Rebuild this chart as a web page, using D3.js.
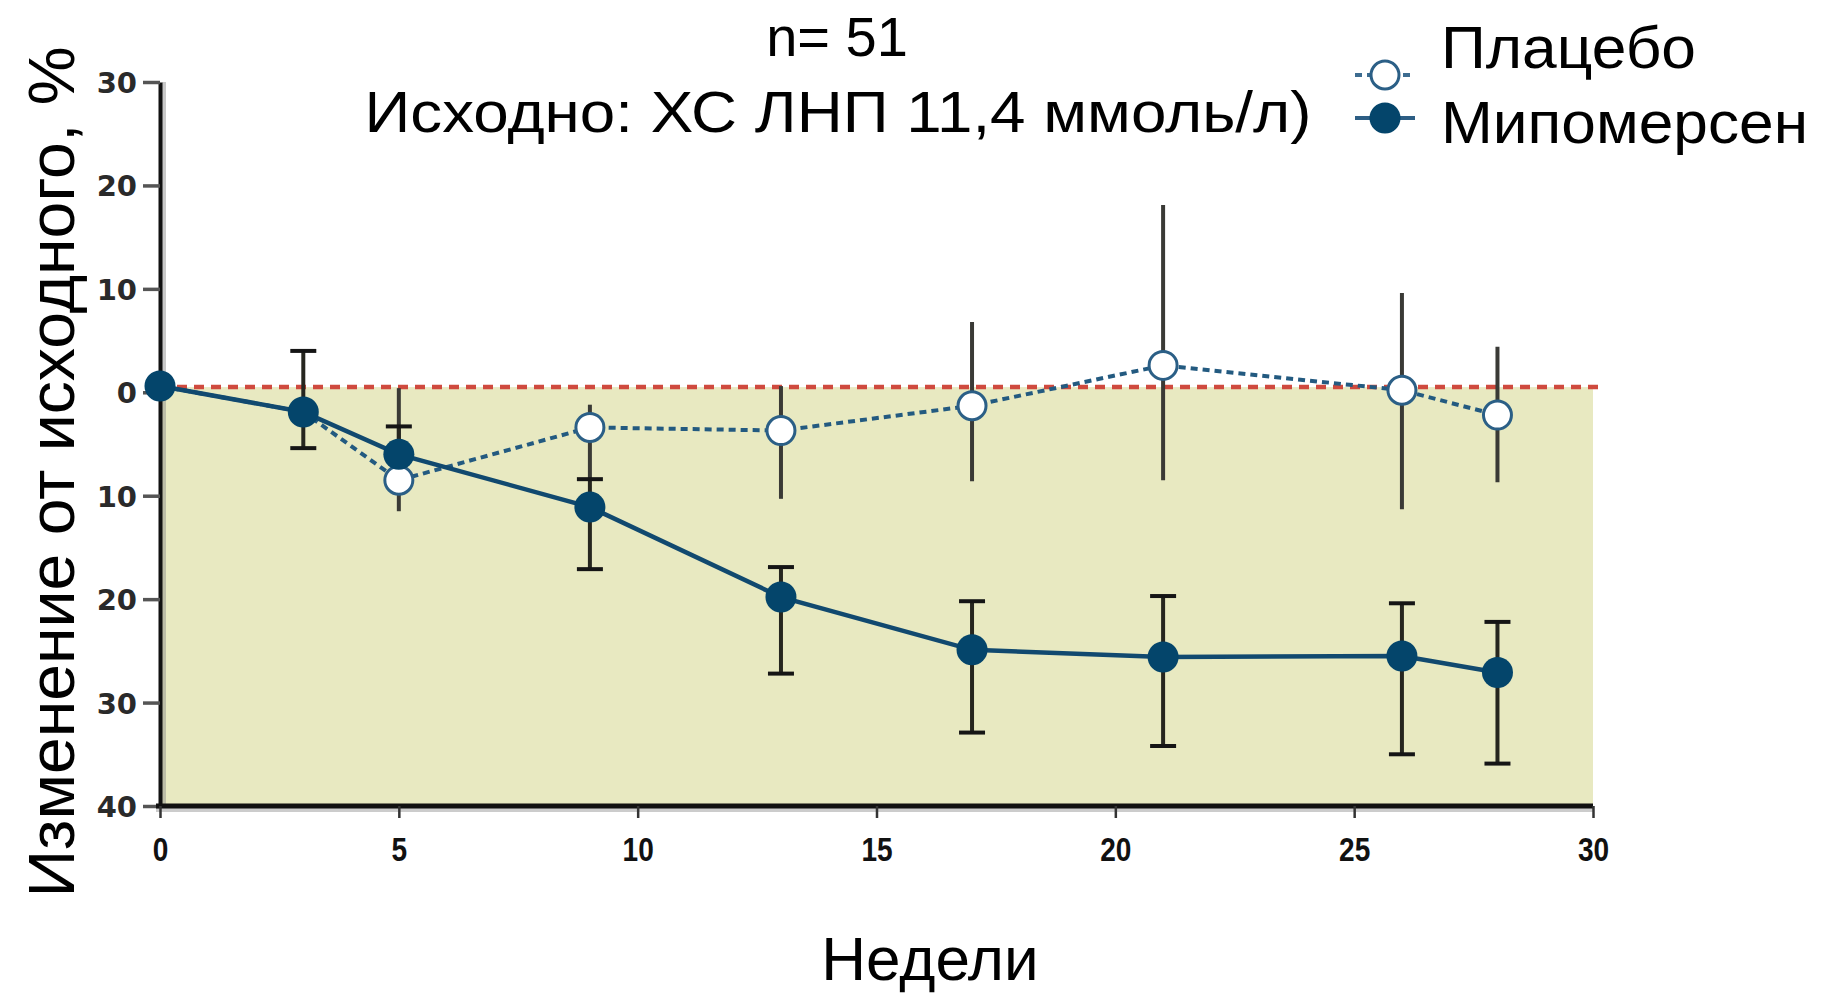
<!DOCTYPE html>
<html>
<head>
<meta charset="utf-8">
<script src="https://cdn.jsdelivr.net/npm/d3@7"></script>
<style>
  html, body { margin: 0; padding: 0; background: #ffffff; }
  svg { display: block; }
</style>
</head>
<body>
<svg id="chart" width="1829" height="996"></svg>
<script>
// ---- data ----
const weeks = [0, 3, 5, 9, 13, 17, 21, 26, 28];
const mipMean = [0.6, -1.9, -6.0, -11.1, -19.8, -24.9, -25.6, -25.5, -27.1];
const mipHigh = [null, 4.0, -3.3, -8.4, -16.9, -20.2, -19.7, -20.4, -22.2];
const mipLow  = [null, -5.4, -8.9, -17.1, -27.2, -32.9, -34.2, -35.0, -35.9];
const plaMean = [0.6, -1.9, -8.5, -3.4, -3.7, -1.3, 2.6, 0.2, -2.2];
const plaHigh = [null, null, 0.4, -1.2, 0.6, 6.8, 18.1, 9.6, 4.4];
const plaLow  = [null, null, -11.5, -8.4, -10.3, -8.6, -8.5, -11.3, -8.7];
const refValue = 0.5;
const xTicks = [0, 5, 10, 15, 20, 25, 30];
const yTicks = [30, 20, 10, 0, -10, -20, -30, -40];
const yTickLabels = ["30", "20", "10", "0", "10", "20", "30", "40"];
const seriesNames = ["Плацебо", "Мипомерсен"];
const titleLines = ["n= 51", "Исходно: ХС ЛНП 11,4 ммоль/л)"];
const xTitle = "Недели";
const yTitle = "Изменение от исходного, %";

// ---- layout ----
const svg = d3.select("#chart");
const x = d3.scaleLinear().domain([0, 30]).range([160, 1593]);
const y = d3.scaleLinear().domain([-40, 30]).range([806, 82]);

const darkBlue = "#04456b";
const lineBlue = "#11496f";
const font = "'Liberation Sans', Arial, Helvetica, sans-serif";

// background fill below reference line
svg.append("rect")
  .attr("x", x(0)).attr("y", y(refValue))
  .attr("width", x(30) - x(0)).attr("height", y(-40) - y(refValue))
  .attr("fill", "#e8e9c1");

// reference dashed red line
svg.append("line")
  .attr("x1", x(0)).attr("x2", x(30) + 5)
  .attr("y1", y(refValue)).attr("y2", y(refValue))
  .attr("stroke", "#cf4a3e").attr("stroke-width", 4.5)
  .attr("stroke-dasharray", "10,7");

// axis shadows
svg.append("line")
  .attr("x1", x(0) + 4).attr("x2", x(0) + 4)
  .attr("y1", y(30)).attr("y2", y(-40))
  .attr("stroke", "#888").attr("stroke-opacity", 0.45).attr("stroke-width", 4);
svg.append("line")
  .attr("x1", x(0) - 4).attr("x2", x(30))
  .attr("y1", y(-40) + 4).attr("y2", y(-40) + 4)
  .attr("stroke", "#999").attr("stroke-opacity", 0.5).attr("stroke-width", 4);

// y axis
const yAxis = d3.axisLeft(y).tickValues(yTicks).tickSize(17).tickSizeOuter(0).tickPadding(5)
  .tickFormat((d, i) => yTickLabels[i]);
const gy = svg.append("g").attr("transform", `translate(${x(0)},0)`).call(yAxis);
gy.select(".domain").attr("stroke", "#111").attr("stroke-width", 4);
gy.selectAll(".tick line").attr("stroke", "#555").attr("stroke-width", 3.5);
gy.selectAll(".tick text")
  .attr("font-family", "'DejaVu Sans', sans-serif").attr("font-weight", "bold")
  .attr("font-size", 29).attr("fill", "#2a2a2a").attr("x", -23).attr("dy", "0.36em");

// x axis
const xAxis = d3.axisBottom(x).tickValues(xTicks).tickSize(12).tickSizeOuter(0)
  .tickFormat(d3.format("d"));
const gx = svg.append("g").attr("transform", `translate(0,${y(-40)})`).call(xAxis);
gx.select(".domain").attr("stroke", "#111").attr("stroke-width", 5)
  .attr("d", `M${x(0) - 4},0H${x(30)}`);
gx.selectAll(".tick line").attr("stroke", "#333").attr("stroke-width", 2.5);
gx.selectAll(".tick text")
  .attr("font-family", font).attr("font-weight", "bold")
  .attr("font-size", 33).attr("fill", "#111")
  .attr("y", 55).attr("dy", 0)
  .attr("transform", "scale(0.85,1)");

// error bars
function drawErr(means, highs, lows, capW, color) {
  const g = svg.append("g");
  weeks.forEach((w, i) => {
    if (highs[i] == null) return;
    const cx = x(w);
    g.append("line").attr("x1", cx).attr("x2", cx)
      .attr("y1", y(highs[i])).attr("y2", y(lows[i]))
      .attr("stroke", color).attr("stroke-width", 4);
    if (capW > 0) {
      [highs[i], lows[i]].forEach(v => {
        g.append("line").attr("x1", cx - capW / 2).attr("x2", cx + capW / 2)
          .attr("y1", y(v)).attr("y2", y(v))
          .attr("stroke", "#151515").attr("stroke-width", 4);
      });
    }
  });
}
drawErr(plaMean, plaHigh, plaLow, 0, "#3a3a36");
drawErr(mipMean, mipHigh, mipLow, 26, "#26261f");

// lines
const line = d3.line().x(d => x(d[0])).y(d => y(d[1]));
svg.append("path")
  .attr("d", line(weeks.map((w, i) => [w, plaMean[i]])))
  .attr("fill", "none").attr("stroke", "#235a80").attr("stroke-width", 4)
  .attr("stroke-dasharray", "7,5");
svg.append("path")
  .attr("d", line(weeks.map((w, i) => [w, mipMean[i]])))
  .attr("fill", "none").attr("stroke", lineBlue).attr("stroke-width", 4.5);

// markers
svg.append("g").selectAll("circle").data(weeks.slice(2)).join("circle")
  .attr("cx", d => x(d)).attr("cy", (d, i) => y(plaMean[i + 2]))
  .attr("r", 14).attr("fill", "#ffffff").attr("stroke", "#2b5f86").attr("stroke-width", 3);
svg.append("g").selectAll("circle").data(weeks).join("circle")
  .attr("cx", d => x(d)).attr("cy", (d, i) => y(mipMean[i]))
  .attr("r", 15.5).attr("fill", darkBlue);

// titles
svg.append("text").attr("x", 837).attr("y", 56).attr("text-anchor", "middle")
  .attr("font-family", font).attr("font-size", 56).attr("fill", "#000").text(titleLines[0]);
svg.append("text").attr("x", 838).attr("y", 132).attr("text-anchor", "middle")
  .attr("font-family", font).attr("font-size", 58).attr("fill", "#000")
  .attr("textLength", 947).attr("lengthAdjust", "spacingAndGlyphs").text(titleLines[1]);

svg.append("text").attr("x", 930).attr("y", 980).attr("text-anchor", "middle")
  .attr("font-family", font).attr("font-size", 62).attr("fill", "#000").text(xTitle);

svg.append("text")
  .attr("transform", "translate(74,472) rotate(-90)")
  .attr("text-anchor", "middle")
  .attr("font-family", font).attr("font-size", 64).attr("fill", "#000")
  .attr("textLength", 851).attr("lengthAdjust", "spacingAndGlyphs").text(yTitle);

// legend
const legY = [75, 118];
const legBase = [68, 143];
const legLen = [255, 367];
legY.forEach((ly, i) => {
  svg.append("line").attr("x1", 1355).attr("x2", 1415).attr("y1", ly).attr("y2", ly)
    .attr("stroke", i === 0 ? "#3d6c90" : "#2d5e84").attr("stroke-width", 4)
    .attr("stroke-dasharray", i === 0 ? "7,5" : null);
  if (i === 0) {
    svg.append("circle").attr("cx", 1385).attr("cy", ly).attr("r", 14)
      .attr("fill", "#fff").attr("stroke", "#2b5f86").attr("stroke-width", 3);
  } else {
    svg.append("circle").attr("cx", 1385).attr("cy", ly).attr("r", 15.5).attr("fill", darkBlue);
  }
  svg.append("text").attr("x", 1441).attr("y", legBase[i])
    .attr("font-family", font).attr("font-size", 59).attr("fill", "#000")
    .attr("textLength", legLen[i]).attr("lengthAdjust", "spacingAndGlyphs")
    .text(seriesNames[i]);
});
</script>
</body>
</html>
